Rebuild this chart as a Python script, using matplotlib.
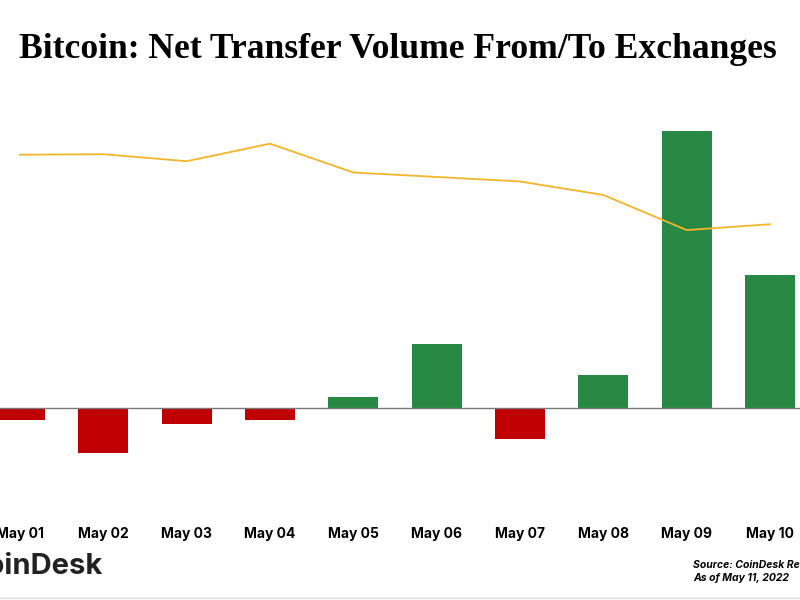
import matplotlib

matplotlib.use("Agg")
import matplotlib.pyplot as plt
import numpy as np

# net transfer volume (BTC) and BTC price (USD)
days = ["May 01", "May 02", "May 03", "May 04", "May 05",
        "May 06", "May 07", "May 08", "May 09", "May 10"]
net_flow = [-1200, -4500, -1600, -1200, 1100, 6400, -3100, 3300, 27700, 13300]
btc_price = [38470, 38530, 37750, 39700, 36500, 36000, 35500, 34000, 30100, 30750]

RED = "#C00000"
GREEN = "#278844"
GOLD = "#F2B52A"

fig = plt.figure(figsize=(8, 6), dpi=100)
fig.patch.set_facecolor("white")

# axes run off both edges of the canvas, like the cropped original
ax = fig.add_axes([0, 0.2, 1, 0.6333])
x = np.arange(len(days))
colors = [GREEN if v >= 0 else RED for v in net_flow]
ax.bar(x, net_flow, width=0.6, color=colors, zorder=2)
ax.axhline(0, color="#777777", lw=1.0, zorder=3)
ax.set_xlim(-0.24, 9.36)
ax.set_ylim(-7200, 30800)
ax.set_xticks(x)
ax.set_xticklabels(days, fontfamily="Inter", fontweight="bold", fontsize=10)
ax.tick_params(axis="x", length=0, pad=34)
ax.set_yticks([])
for s in ax.spines.values():
    s.set_visible(False)

ax2 = ax.twinx()
ax2.plot(x, btc_price, color=GOLD, lw=1.3, zorder=4)
ax2.set_ylim(2330, 44550)
ax2.set_yticks([])
for s in ax2.spines.values():
    s.set_visible(False)

fig.text(0.4975, 0.918, "Bitcoin: Net Transfer Volume From/To Exchanges",
         ha="center", va="center", fontfamily="Liberation Serif",
         fontweight="bold", fontsize=25.6)

fig.text(0.129, 0.055, "CoinDesk", ha="right", va="center",
         fontfamily="Inter", fontweight="bold", fontsize=21, color="#222222")
fig.text(0.866, 0.058, "Source: CoinDesk Research", ha="left", va="center",
         fontfamily="Inter", fontweight="bold", style="italic", fontsize=7.5)
fig.text(0.866, 0.036, "As of May 11, 2022", ha="left", va="center",
         fontfamily="Inter", fontweight="bold", style="italic", fontsize=7.5)
fig.add_artist(plt.Line2D([0, 1], [0.004, 0.004], color="#DDDDDD", lw=1))

fig.savefig("out.png", dpi=100)
